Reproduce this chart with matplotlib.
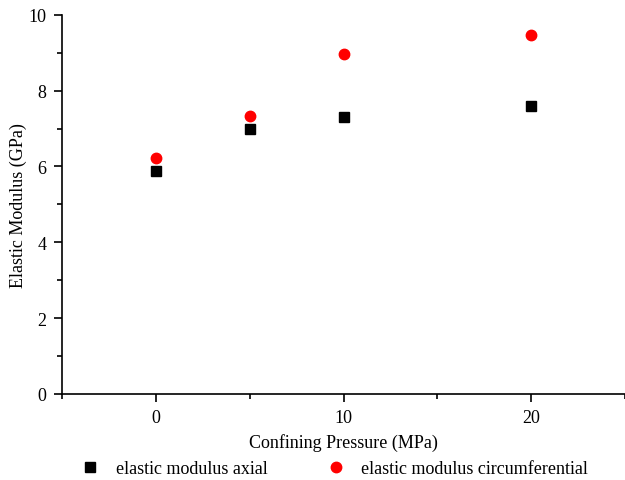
import matplotlib.pyplot as plt
from matplotlib.ticker import MultipleLocator

# confining pressure (MPa) and elastic modulus (GPa)
pressure = [0, 5, 10, 20]
modulus_axial = [5.88, 6.99, 7.31, 7.60]
modulus_circ = [6.23, 7.32, 8.97, 9.47]

plt.rcParams['font.family'] = ['Liberation Serif', 'DejaVu Serif']

fig = plt.figure(figsize=(6.25, 4.81), dpi=100)
ax = fig.add_axes([0.0992, 0.179, 0.9008, 0.788])

ax.plot(pressure, modulus_axial, 's', color='black', markersize=6.5,
        label='elastic modulus axial')
ax.plot(pressure, modulus_circ, 'o', color='red', markersize=7.5,
        label='elastic modulus circumferential')

ax.set_xlim(-5, 25)
ax.set_ylim(0, 10)
ax.xaxis.set_major_locator(MultipleLocator(10))
ax.xaxis.set_minor_locator(MultipleLocator(5))
ax.yaxis.set_major_locator(MultipleLocator(2))
ax.yaxis.set_minor_locator(MultipleLocator(1))

for s in ['top', 'right']:
    ax.spines[s].set_visible(False)
for s in ['left', 'bottom']:
    ax.spines[s].set_linewidth(1.2)

ax.tick_params(which='major', direction='out', length=6, width=1.2, labelsize=13, pad=5)
ax.tick_params(which='minor', direction='out', length=3.5, width=1.2)

ax.set_xlabel('Confining Pressure (MPa)', fontsize=13, labelpad=5)
ax.set_ylabel('Elastic Modulus (GPa)', fontsize=13, labelpad=1)

fig.legend(loc='center left', bbox_to_anchor=(0.104, 0.023), ncol=2, frameon=False,
           fontsize=13, handlelength=1.0, handletextpad=0.9, columnspacing=3.3)

fig.savefig('out.png', dpi=100)
